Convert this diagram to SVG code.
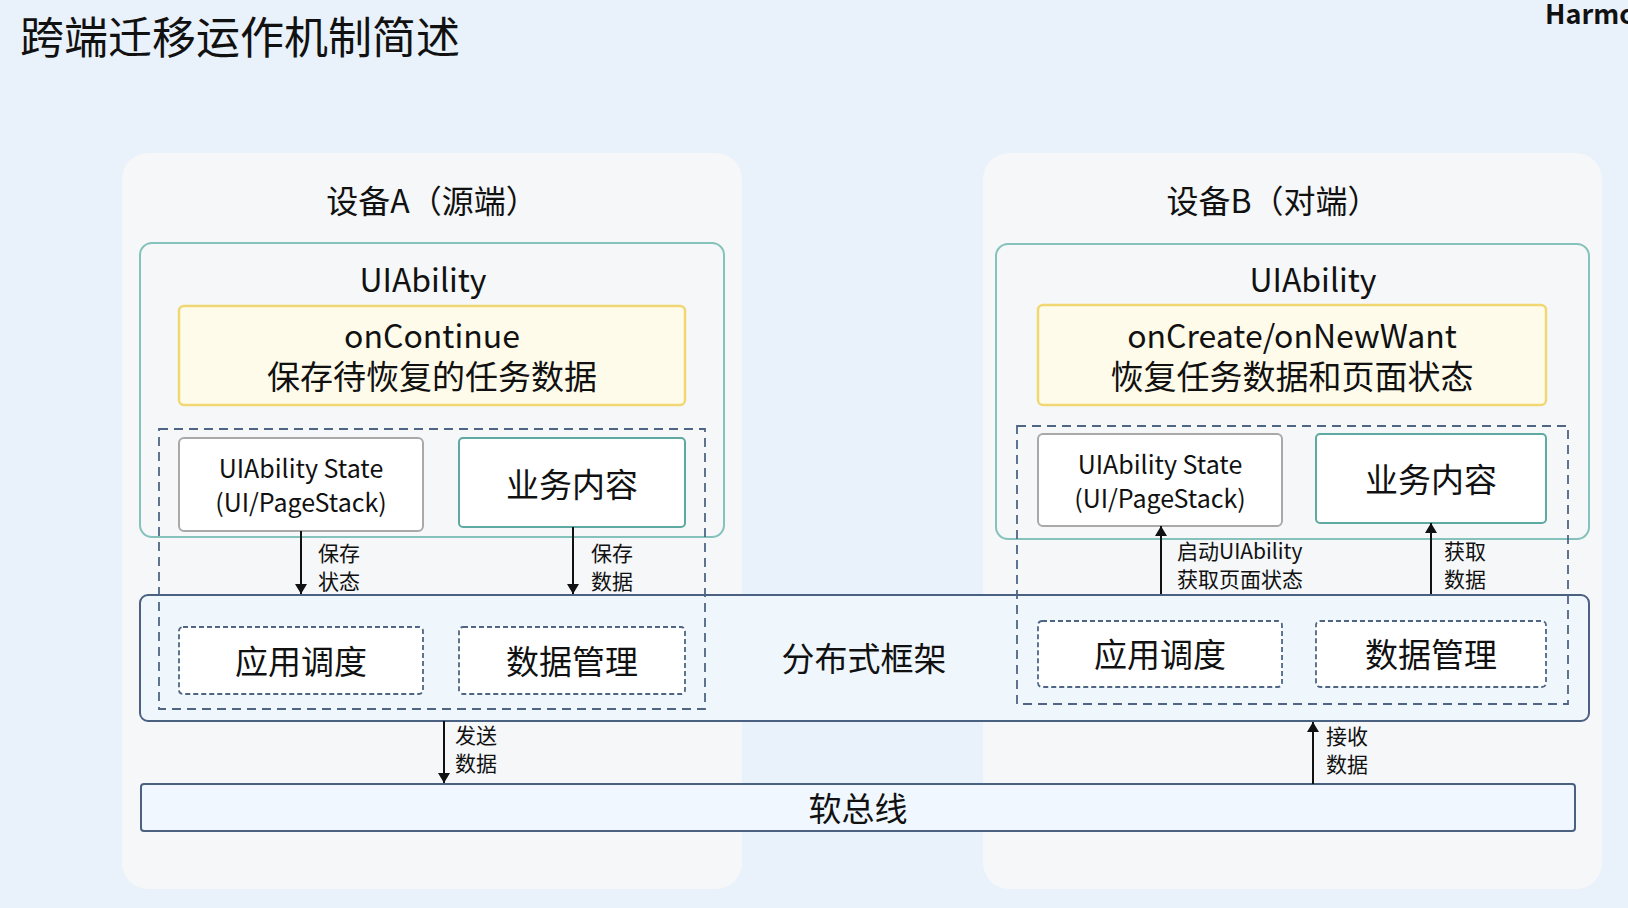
<svg xmlns="http://www.w3.org/2000/svg" width="1628" height="908" viewBox="0 0 1628 908">
<defs>
<style>
text{font-family:"Noto Sans CJK SC","Noto Sans",sans-serif;fill:#111;text-anchor:middle;dominant-baseline:central}
.panel{fill:#f5f7f9}
.uia{fill:none;stroke:#86c2bc;stroke-width:2}
.yel{fill:#fffbea;stroke:#f1d774;stroke-width:2.5}
.state{fill:#fff;stroke:#a9a9a9;stroke-width:2}
.biz{fill:#fff;stroke:#5eaaa3;stroke-width:2}
.bigdash{fill:none;stroke:#4e6584;stroke-width:1.8;stroke-dasharray:9 6}
.frame{fill:#eff7fd;stroke:#4a6182;stroke-width:2}
.sub{fill:#fff;stroke:#4e6584;stroke-width:1.8;stroke-dasharray:5 3}
.bus{fill:#f0f7fe;stroke:#4a6182;stroke-width:2}
.conn line{stroke:#111;stroke-width:2}
.lbl{font-size:21px;text-anchor:start}
.h32{font-size:32px}
.h33{font-size:33px}
.h25{font-size:25px}
</style>
<marker id="ah" viewBox="0 0 10 12" refX="10" refY="6" markerWidth="10" markerHeight="12" markerUnits="userSpaceOnUse" orient="auto">
<path d="M0,0 L10,6 L0,12 z" fill="#111"/>
</marker>
</defs>
<rect width="1628" height="908" fill="#e9f1fb"/>
<g id="title">
<text x="240" y="35" style="font-size:44px">跨端迁移运作机制简述</text>
<text x="1545" y="12" style="font-size:27px;font-weight:bold;text-anchor:start">Harmo</text>
</g>
<g id="deviceA">
<rect class="panel" x="122" y="153" width="620" height="736" rx="26"/>
<text class="h32" x="432" y="199">设备A（源端）</text>
</g>
<g id="deviceB">
<rect class="panel" x="983" y="153" width="619" height="736" rx="26"/>
<text class="h32" x="1273" y="199">设备B（对端）</text>
</g>
<g id="frameworkBox">
<rect class="frame" x="140" y="595" width="1449" height="126" rx="8"/>
<text class="h33" x="864" y="657">分布式框架</text>
</g>
<g id="softbus">
<rect class="bus" x="141" y="784" width="1434" height="47" rx="3"/>
<text class="h33" x="858" y="807">软总线</text>
</g>
<g id="uiabilityA">
<rect class="uia" x="140" y="243" width="584" height="294" rx="12"/>
<text class="h32" x="423" y="278">UIAbility</text>
</g>
<g id="onContinue">
<rect class="yel" x="179" y="306" width="506" height="99" rx="5"/>
<text class="h32" x="432" y="334">onContinue</text>
<text class="h33" x="432" y="375">保存待恢复的任务数据</text>
</g>
<g id="stateA">
<rect class="state" x="179" y="438" width="244" height="93" rx="5"/>
<text class="h25" x="301" y="467">UIAbility State</text>
<text class="h25" x="301" y="501">(UI/PageStack)</text>
</g>
<g id="bizA">
<rect class="biz" x="459" y="438" width="226" height="89" rx="4"/>
<text class="h33" x="572" y="483">业务内容</text>
</g>
<g id="schedA">
<rect class="sub" x="179" y="627" width="244" height="67" rx="4"/>
<text class="h33" x="301" y="660">应用调度</text>
</g>
<g id="dataA">
<rect class="sub" x="459" y="627" width="226" height="67" rx="4"/>
<text class="h33" x="572" y="660">数据管理</text>
</g>
<g id="groupA">
<rect class="bigdash" x="159" y="429" width="546" height="280"/>
</g>
<g id="uiabilityB">
<rect class="uia" x="996" y="244" width="593" height="295" rx="12"/>
<text class="h32" x="1313" y="278">UIAbility</text>
</g>
<g id="onCreate">
<rect class="yel" x="1038" y="305" width="508" height="100" rx="5"/>
<text class="h32" x="1292" y="334">onCreate/onNewWant</text>
<text class="h33" x="1292" y="375">恢复任务数据和页面状态</text>
</g>
<g id="stateB">
<rect class="state" x="1038" y="434" width="244" height="92" rx="5"/>
<text class="h25" x="1160" y="463">UIAbility State</text>
<text class="h25" x="1160" y="497">(UI/PageStack)</text>
</g>
<g id="bizB">
<rect class="biz" x="1316" y="434" width="230" height="89" rx="4"/>
<text class="h33" x="1431" y="478">业务内容</text>
</g>
<g id="schedB">
<rect class="sub" x="1038" y="621" width="244" height="66" rx="4"/>
<text class="h33" x="1160" y="653">应用调度</text>
</g>
<g id="dataB">
<rect class="sub" x="1316" y="621" width="230" height="66" rx="4"/>
<text class="h33" x="1431" y="653">数据管理</text>
</g>
<g id="groupB">
<rect class="bigdash" x="1017" y="426" width="551" height="278"/>
</g>
<g id="connectors" class="conn">
<line x1="301" y1="531" x2="301" y2="594" marker-end="url(#ah)"/>
<line x1="573" y1="527" x2="573" y2="594" marker-end="url(#ah)"/>
<line x1="444" y1="721" x2="444" y2="783" marker-end="url(#ah)"/>
<line x1="1161" y1="594" x2="1161" y2="526" marker-end="url(#ah)"/>
<line x1="1431" y1="594" x2="1431" y2="523" marker-end="url(#ah)"/>
<line x1="1313" y1="784" x2="1313" y2="722" marker-end="url(#ah)"/>
</g>
<g id="labels">
<text class="lbl" x="318" y="552">保存</text>
<text class="lbl" x="318" y="580">状态</text>
<text class="lbl" x="591" y="552">保存</text>
<text class="lbl" x="591" y="580">数据</text>
<text class="lbl" x="1177" y="550">启动UIAbility</text>
<text class="lbl" x="1177" y="578">获取页面状态</text>
<text class="lbl" x="1444" y="550">获取</text>
<text class="lbl" x="1444" y="578">数据</text>
<text class="lbl" x="455" y="734">发送</text>
<text class="lbl" x="455" y="762">数据</text>
<text class="lbl" x="1326" y="735">接收</text>
<text class="lbl" x="1326" y="763">数据</text>
</g>
</svg>
